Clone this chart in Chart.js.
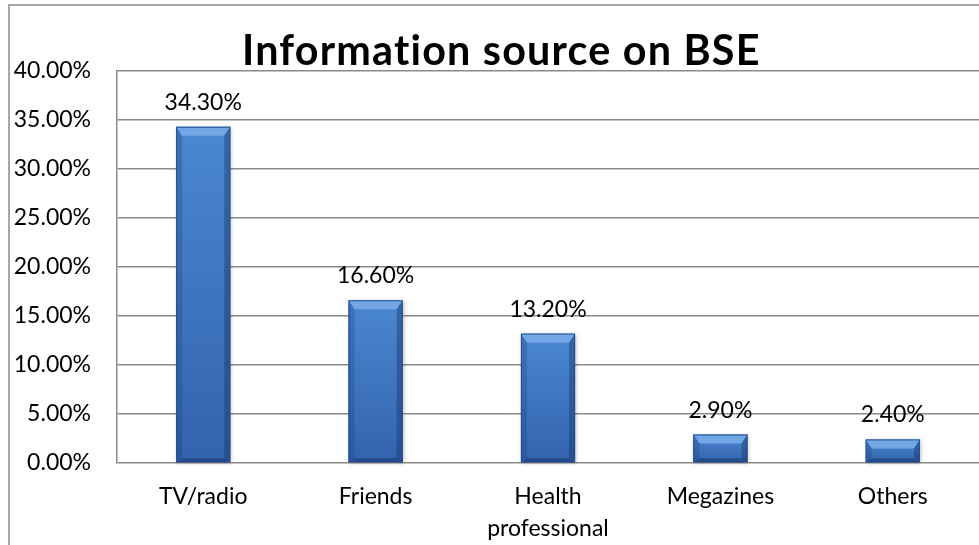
<!DOCTYPE html>
<html>
<head>
<meta charset="utf-8">
<script src="https://cdn.jsdelivr.net/npm/chart.js@4.4.1/dist/chart.umd.min.js"></script>
<style>
  html, body { margin: 0; padding: 0; background: #fff; }
  #wrap { position: relative; width: 979px; height: 545px; }
</style>
</head>
<body>
<div id="wrap"><canvas id="c" width="979" height="545"></canvas></div>
<script>
const chartTitle = 'Information source on BSE';
const categories = ['TV/radio', 'Friends', ['Health', 'professional'], 'Megazines', 'Others'];
const values = [34.3, 16.6, 13.2, 2.9, 2.4];
const yMin = 0, yMax = 40, yStep = 5;

const FONT = 'Lato, "Open Sans", "DejaVu Sans", sans-serif';
const GRID = '#8a8a8a';

const framePlugin = {
  id: 'frame',
  beforeDraw(chart) {
    const ctx = chart.ctx;
    ctx.save();
    ctx.strokeStyle = '#8c8c8c';
    ctx.lineWidth = 1.5;
    ctx.beginPath();
    ctx.moveTo(9, chart.height + 2);
    ctx.lineTo(9, 5);
    ctx.lineTo(chart.width + 2, 5);
    ctx.stroke();
    ctx.restore();
  }
};

const bevelPlugin = {
  id: 'bevel',
  afterDatasetsDraw(chart) {
    const ctx = chart.ctx;
    const meta = chart.getDatasetMeta(0);
    meta.data.forEach((bar) => {
      const p = bar.getProps(['x', 'y', 'base', 'width'], true);
      const L = p.x - p.width / 2, R = p.x + p.width / 2;
      const T = Math.min(p.y, p.base), B = Math.max(p.y, p.base);
      const h = B - T;
      const s = Math.min(6, p.width / 4);
      const t = Math.min(9, h / 2.5);
      const bb = Math.min(4, h / 5);
      ctx.save();
      ctx.shadowColor = 'rgba(0,0,0,0.25)';
      ctx.shadowBlur = 4;
      ctx.shadowOffsetX = 1;
      ctx.shadowOffsetY = 1;
      const g = ctx.createLinearGradient(0, T, 0, B);
      g.addColorStop(0, '#4B87D2');
      g.addColorStop(1, '#3263AC');
      ctx.fillStyle = g;
      ctx.fillRect(L, T, R - L, h);
      ctx.shadowColor = 'transparent';
      ctx.beginPath();
      ctx.moveTo(L, T); ctx.lineTo(R, T); ctx.lineTo(R - s, T + t); ctx.lineTo(L + s, T + t); ctx.closePath();
      ctx.fillStyle = '#72A6E4';
      ctx.fill();
      ctx.beginPath();
      ctx.moveTo(L, T); ctx.lineTo(L + s, T + t); ctx.lineTo(L + s, B - bb); ctx.lineTo(L, B); ctx.closePath();
      ctx.fillStyle = 'rgba(25,60,120,0.28)';
      ctx.fill();
      ctx.beginPath();
      ctx.moveTo(R, T); ctx.lineTo(R - s, T + t); ctx.lineTo(R - s, B - bb); ctx.lineTo(R, B); ctx.closePath();
      ctx.fillStyle = 'rgba(20,50,105,0.40)';
      ctx.fill();
      ctx.beginPath();
      ctx.moveTo(L, B); ctx.lineTo(L + s, B - bb); ctx.lineTo(R - s, B - bb); ctx.lineTo(R, B); ctx.closePath();
      ctx.fillStyle = 'rgba(20,45,95,0.45)';
      ctx.fill();
      ctx.strokeStyle = 'rgba(35,75,135,0.8)';
      ctx.lineWidth = 1;
      ctx.strokeRect(L + 0.5, T + 0.5, R - L - 1, h - 1);
      ctx.restore();
    });
  },
  afterDraw(chart) {
    const ctx = chart.ctx;
    const meta = chart.getDatasetMeta(0);
    ctx.save();
    ctx.fillStyle = '#000';
    ctx.font = '23px ' + FONT;
    ctx.textAlign = 'center';
    ctx.textBaseline = 'alphabetic';
    meta.data.forEach((bar, i) => {
      ctx.fillText(values[i].toFixed(2) + '%', bar.x, bar.y - 17);
    });
    // title sized to the reference width with slight tracking
    const target = 518, spacing = 1.2;
    ctx.font = 'bold 36px ' + FONT;
    const w36 = ctx.measureText(chartTitle).width;
    const size = 36 * (target - spacing * (chartTitle.length - 1)) / w36;
    ctx.font = 'bold ' + size.toFixed(1) + 'px ' + FONT;
    if ('letterSpacing' in ctx) ctx.letterSpacing = spacing + 'px';
    ctx.textAlign = 'left';
    ctx.fillText(chartTitle, 501 - target / 2, 65);
    ctx.restore();
  }
};

new Chart(document.getElementById('c'), {
  type: 'bar',
  data: {
    labels: categories,
    datasets: [{
      data: values,
      backgroundColor: '#3F77C2',
      borderWidth: 0,
      categoryPercentage: 1,
      barPercentage: 0.314
    }]
  },
  options: {
    responsive: false,
    animation: false,
    devicePixelRatio: 1,
    layout: { padding: { left: 0, top: 71, right: 0, bottom: 0 } },
    plugins: {
      legend: { display: false },
      title: { display: false },
      tooltip: { enabled: false }
    },
    scales: {
      x: {
        grid: { display: false, drawTicks: false },
        border: { display: false },
        ticks: {
          color: '#000',
          font: { family: FONT, size: 23, lineHeight: 1.42 },
          padding: 17,
          maxRotation: 0,
          autoSkip: false
        },
        afterFit(scale) { scale.height = 82; }
      },
      y: {
        min: yMin, max: yMax,
        grid: { color: GRID, lineWidth: 1.5, drawTicks: false },
        border: { display: true, color: GRID, width: 1.5 },
        ticks: {
          stepSize: yStep,
          color: '#000',
          font: { family: FONT, size: 23 },
          padding: 26,
          callback: (v) => Number(v).toFixed(2) + '%'
        },
        afterFit(scale) { scale.width = 117; }
      }
    }
  },
  plugins: [framePlugin, bevelPlugin]
});
</script>
</body>
</html>
